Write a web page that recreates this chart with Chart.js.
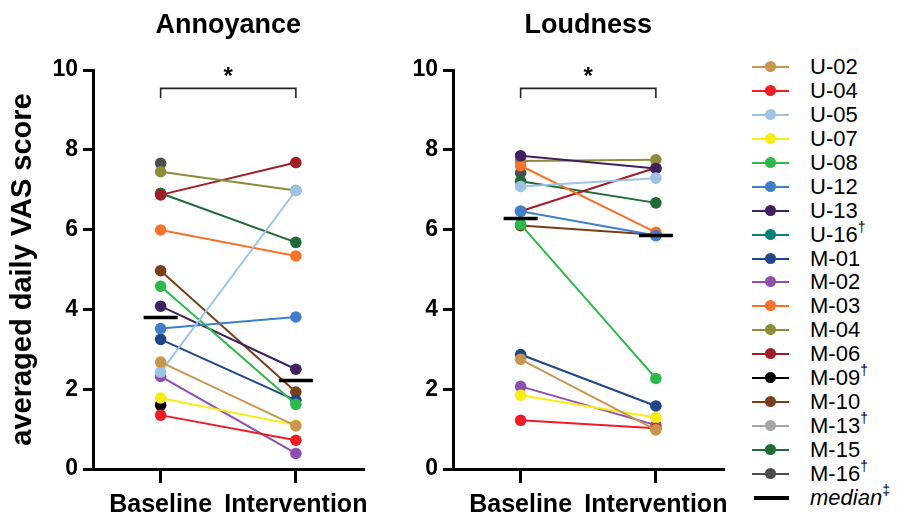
<!DOCTYPE html>
<html>
<head>
<meta charset="utf-8">
<script src="https://cdn.jsdelivr.net/npm/chart.js@4.4.1/dist/chart.umd.min.js"></script>
<style>
  html, body { margin: 0; padding: 0; background: #fff; }
  body { width: 897px; height: 515px; position: relative; overflow: hidden; font-family: "Liberation Sans", Arial, sans-serif; }
  canvas { position: absolute; top: 0; }
  #c1 { left: 0; }
  #c2 { left: 375px; }
  #legend { position: absolute; left: 0; top: 0; }
  .row { position: absolute; left: 752px; height: 24px; width: 145px; }
  .sym { position: absolute; left: 0; top: 11px; width: 37px; height: 2px; }
  .dot { position: absolute; left: 13px; top: 6px; width: 11px; height: 11px; border-radius: 50%; }
  .lbl { position: absolute; left: 58px; top: 0; line-height: 24px; font-size: 22px; color: #000; white-space: nowrap; }
  .lbl sup { font-size: 14px; position: relative; top: -3px; vertical-align: top; line-height: 14px; }
</style>
</head>
<body>
<canvas id="c1" width="384" height="515"></canvas>
<canvas id="c2" width="369" height="515"></canvas>
<div id="legend"></div>
<script>
// ---------- data ----------
const categories = ['Baseline', 'Intervention'];
const categoryX = [0, 1];
const yTicks = [0, 2, 4, 6, 8, 10];
const subjects = ['U-02','U-04','U-05','U-07','U-08','U-12','U-13','U-16','M-01','M-02','M-03','M-04','M-06','M-09','M-10','M-13','M-15','M-16'];
const subjectMarks = ['','','','','','','','†','','','','','','†','','†','','†'];
const subjectColors = ['#C8964F','#EE1C25','#9DC3E6','#F7EC13','#2DB84B','#3F7FCB','#40205E','#0A7F7A','#1F4788','#8E4FAE','#F7722A','#8C8C3A','#A01E26','#000000','#7A3E1A','#A6A6A6','#1E6B35','#4D4D4D'];

const annoyanceBaseline     = [2.68, 1.35, 2.43, 1.78, 4.58, 3.52, 4.08, null, 3.25, 2.32, 5.99, 7.45, 6.87, 1.60, 4.97, null, 6.91, 7.66];
const annoyanceIntervention = [1.08, 0.72, 6.98, 1.10, 1.62, 3.81, 2.50, null, 1.72, 0.39, 5.34, 6.98, 7.68, null, 1.93, null, 5.68, null];
const annoyanceMedian = [3.80, 2.22];

const loudnessBaseline      = [2.75, 1.22, 7.08, 1.85, 6.13, 6.46, 7.85, null, 2.87, 2.07, 7.60, 7.72, 6.46, null, 6.10, null, 7.21, 7.42];
const loudnessIntervention  = [0.98, 1.02, 7.29, 1.29, 2.27, 5.85, 7.53, null, 1.58, 1.10, 5.93, 7.75, 7.55, null, 5.87, null, 6.67, null];
const loudnessMedian = [6.28, 5.85];

const bracketY = [9.30, 9.54];   // bracket foot / top
const significance = '*';
const panelTitles = ['Annoyance', 'Loudness'];
const yTitle = 'averaged daily VAS score';

// ---------- chart ----------
const FONT = '"Liberation Sans", Arial, sans-serif';
Chart.defaults.font.family = FONT;
Chart.defaults.color = '#000';

const overlay = {
  id: 'overlay',
  afterDraw(chart, args, opts) {
    const ctx = chart.ctx;
    const ca = chart.chartArea;
    ctx.save();
    ctx.fillStyle = '#000';
    ctx.textAlign = 'center';
    ctx.textBaseline = 'alphabetic';
    ctx.font = 'bold 27px ' + FONT;
    ctx.fillText(opts.title, (ca.left + ca.right) / 2, 33);
    const xs = chart.scales.x, ys = chart.scales.y;
    const sx = (xs.getPixelForValue(categoryX[0]) + xs.getPixelForValue(categoryX[1])) / 2;
    const sy = ys.getPixelForValue(bracketY[1]) - 4;
    ctx.font = 'bold 24px ' + FONT;
    ctx.fillText(significance, sx, sy);
    ctx.restore();
  }
};

function buildDatasets(base, inter, med) {
  const ds = [];
  ds.push({
    label: 'median',
    data: categoryX.map((x, i) => ({ x: x, y: med[i] })),
    showLine: false,
    pointStyle: 'line',
    pointRadius: 17,
    pointBorderWidth: 3.5,
    borderColor: '#000',
    backgroundColor: '#000'
  });
  ds.push({
    label: 'bracket',
    data: [
      { x: categoryX[0], y: bracketY[0] },
      { x: categoryX[0], y: bracketY[1] },
      { x: categoryX[1], y: bracketY[1] },
      { x: categoryX[1], y: bracketY[0] }
    ],
    showLine: true,
    pointRadius: 0,
    borderColor: '#222',
    borderWidth: 1.6
  });
  subjects.forEach((s, i) => {
    const pts = [];
    if (base[i] !== null) pts.push({ x: categoryX[0], y: base[i] });
    if (inter[i] !== null) pts.push({ x: categoryX[1], y: inter[i] });
    ds.push({
      label: s,
      data: pts,
      showLine: true,
      borderColor: subjectColors[i],
      backgroundColor: subjectColors[i],
      pointBackgroundColor: subjectColors[i],
      pointBorderColor: subjectColors[i],
      borderWidth: 2,
      pointRadius: 5.8,
      pointBorderWidth: 0
    });
  });
  return ds;
}

function makeChart(id, title, base, inter, med, yWidth, showYTitle) {
  return new Chart(document.getElementById(id), {
    type: 'scatter',
    data: { datasets: buildDatasets(base, inter, med) },
    options: {
      responsive: false,
      animation: false,
      layout: { padding: { top: 70, right: 0, bottom: 0, left: 0 } },
      plugins: {
        legend: { display: false },
        tooltip: { enabled: false },
        overlay: { title: title }
      },
      scales: {
        x: {
          type: 'linear',
          min: -0.5,
          max: 1.5,
          afterBuildTicks: (sc) => { sc.ticks = categoryX.map(v => ({ value: v })); },
          afterFit: (sc) => { sc.height = 46; },
          ticks: {
            callback: (v) => categories[categoryX.indexOf(v)],
            font: { size: 25, weight: 'bold' },
            color: '#000',
            padding: 7,
            maxRotation: 0,
            autoSkip: false
          },
          grid: { drawOnChartArea: false, drawTicks: true, tickLength: 14, color: '#000', lineWidth: 3 },
          border: { display: true, color: '#000', width: 3 }
        },
        y: {
          type: 'linear',
          min: yTicks[0],
          max: yTicks[yTicks.length - 1],
          afterBuildTicks: (sc) => { sc.ticks = yTicks.map(v => ({ value: v })); },
          afterFit: (sc) => { sc.width = yWidth; },
          ticks: {
            font: { size: 23, weight: 'bold' },
            color: '#000',
            padding: 5
          },
          grid: { drawOnChartArea: false, drawTicks: true, tickLength: 10, color: '#000', lineWidth: 3 },
          border: { display: true, color: '#000', width: 3 },
          title: {
            display: showYTitle,
            text: yTitle,
            font: { size: 29, weight: 'bold' },
            color: '#000',
            padding: { top: 6, bottom: 0 }
          }
        }
      }
    },
    plugins: [overlay]
  });
}

makeChart('c1', panelTitles[0], annoyanceBaseline, annoyanceIntervention, annoyanceMedian, 93, true);
makeChart('c2', panelTitles[1], loudnessBaseline, loudnessIntervention, loudnessMedian, 78, false);

// ---------- legend ----------
const legend = document.getElementById('legend');
const rowTop = 67.3, rowStep = 23.9;
subjects.forEach((s, i) => {
  const r = document.createElement('div');
  r.className = 'row';
  r.style.top = (rowTop + i * rowStep - 12) + 'px';
  r.innerHTML = '<div class="sym" style="background:' + subjectColors[i] + '"></div>' +
    '<div class="dot" style="background:' + subjectColors[i] + '"></div>' +
    '<div class="lbl">' + s + (subjectMarks[i] ? '<sup>' + subjectMarks[i] + '</sup>' : '') + '</div>';
  legend.appendChild(r);
});
const mr = document.createElement('div');
mr.className = 'row';
mr.style.top = (rowTop + subjects.length * rowStep - 12) + 'px';
mr.innerHTML = '<div class="sym" style="background:#000;height:4px;top:10px;width:35px;left:2px"></div>' +
  '<div class="lbl"><i>median</i><sup>‡</sup></div>';
legend.appendChild(mr);
</script>
</body>
</html>
